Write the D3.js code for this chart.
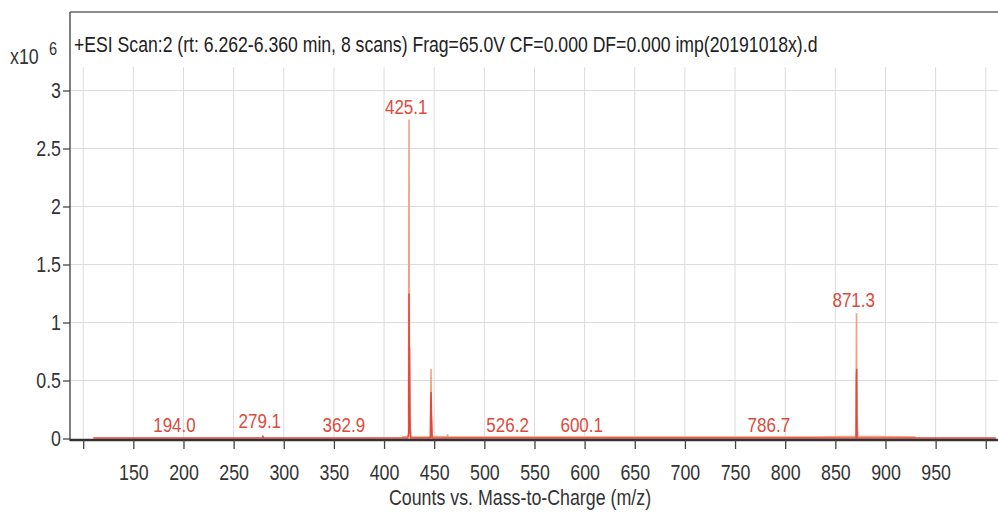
<!DOCTYPE html>
<html>
<head>
<meta charset="utf-8">
<script src="https://cdn.jsdelivr.net/npm/d3@7"></script>
<style>
  body { margin: 0; background: #fff; }
  text { font-family: "Liberation Sans", Arial, sans-serif; }
</style>
</head>
<body>
<div id="chart"></div>
<script>
// Mass spectrum, +ESI scan

// Axis ticks
var xTicks = [100, 150, 200, 250, 300, 350, 400, 450, 500, 550, 600, 650, 700, 750, 800, 850, 900, 950, 1000];
var xTickLabels = ['', '150', '200', '250', '300', '350', '400', '450', '500', '550', '600', '650', '700', '750', '800', '850', '900', '950', ''];
var yTicks = [0, 0.5, 1, 1.5, 2, 2.5, 3];
var yTickLabels = ['0', '0.5', '1', '1.5', '2', '2.5', '3'];

// Centroid trace (red), counts x10^6
var redMz     = [110, 278.7, 279.1, 279.5, 423.8, 424.6, 424.9, 425.1, 425.4, 425.7, 426.0, 426.4, 446.2, 446.6, 446.9, 447.2, 447.5, 447.9, 870.7, 871.0, 871.3, 871.6, 1010];
var redCounts = [0.004, 0.004, 0.025, 0.004, 0.004, 0.05, 1.25, 0.78, 0.78, 0.40, 0.06, 0.004, 0.004, 0.33, 0.40, 0.20, 0.14, 0.004, 0.004, 0.55, 0.60, 0.004, 0.004];

// Profile trace (salmon), counts x10^6
var profMz     = [418, 424.4, 424.9, 425.2, 425.6, 426.2, 427.0, 428.0, 446.3, 446.8, 447.3, 448.0, 462.8, 463.3, 463.8, 520, 828, 870.6, 871.1, 871.5, 872.4, 930];
var profCounts = [0.012, 0.02, 2.75, 0.90, 0.20, 0.08, 0.02, 0.012, 0.012, 0.60, 0.15, 0.02, 0.012, 0.035, 0.012, 0.012, 0.012, 0.02, 1.08, 0.20, 0.02, 0.012];

// Labelled peaks
var peakMz     = [194.0, 279.1, 362.9, 425.1, 526.2, 600.1, 786.7, 871.3];
var peakLabels = ['194.0', '279.1', '362.9', '425.1', '526.2', '600.1', '786.7', '871.3'];
var peakTops   = [0.004, 0.035, 0.004, 2.75, 0.004, 0.004, 0.004, 1.08];

var titleText = '+ESI Scan:2 (rt: 6.262-6.360 min, 8 scans) Frag=65.0V CF=0.000 DF=0.000 imp(20191018x).d';
var xTitle = 'Counts vs. Mass-to-Charge (m/z)';

var width = 998,
    height = 512,
    margin = {top: 12, right: 0, bottom: 71, left: 70},
    squeeze = 0.81; // narrow font look

var svg = d3.select('#chart').append('svg')
    .attr('width', width)
    .attr('height', height);

var plotRight = width - margin.right;
var baseY = 438.5;

// Scales
var x = d3.scaleLinear().domain([86.84, 1012.2]).range([margin.left, plotRight]);
var y = d3.scaleLinear().domain([0, 3.2]).range([baseY, 67.3]);

// Text helper: condensed text at a point
function addText(px, py, str, size, fill, anchor, sx) {
    return svg.append('text')
        .attr('transform', 'translate(' + px + ',' + py + ') scale(' + (sx || squeeze) + ',1)')
        .attr('text-anchor', anchor || 'start')
        .style('font-size', size + 'px')
        .attr('fill', fill)
        .text(str);
}

// Gridlines
svg.append('g').selectAll('line')
    .data(xTicks)
    .enter().append('line')
    .attr('x1', function(d) { return x(d); })
    .attr('x2', function(d) { return x(d); })
    .attr('y1', y(3.2))
    .attr('y2', baseY)
    .attr('stroke', '#dcdcdc')
    .attr('stroke-width', 1);

svg.append('g').selectAll('line')
    .data(yTicks.slice(1))
    .enter().append('line')
    .attr('x1', margin.left)
    .attr('x2', plotRight)
    .attr('y1', function(d) { return y(d); })
    .attr('y2', function(d) { return y(d); })
    .attr('stroke', '#dcdcdc')
    .attr('stroke-width', 1);

// Frame: top border and left axis
svg.append('line')
    .attr('x1', margin.left).attr('x2', plotRight)
    .attr('y1', margin.top).attr('y2', margin.top)
    .attr('stroke', '#666').attr('stroke-width', 1.5);

svg.append('line')
    .attr('x1', margin.left).attr('x2', margin.left)
    .attr('y1', margin.top).attr('y2', 441)
    .attr('stroke', '#555').attr('stroke-width', 1.5);

// Title, squeezed to the width it has in the reference
var title = addText(74, 52, titleText, 22, '#222', 'start', 1);
var titleW = title.node().getComputedTextLength();
title.attr('transform', 'translate(74,52) scale(' + (744 / titleW) + ',1)');

// Line generator
var line = d3.line()
    .x(function(d) { return x(d[0]); })
    .y(function(d) { return y(d[1]); });

// Profile trace
svg.append('path')
    .datum(d3.zip(profMz, profCounts))
    .attr('d', line)
    .attr('fill', 'none')
    .attr('stroke', '#f2a182')
    .attr('stroke-width', 1.6);

// Red trace
svg.append('path')
    .datum(d3.zip(redMz, redCounts))
    .attr('d', line)
    .attr('fill', 'none')
    .attr('stroke', '#e4473b')
    .attr('stroke-width', 1.5);

// X axis
var xAxis = d3.axisBottom(x)
    .tickValues(xTicks)
    .tickSize(9)
    .tickPadding(15)
    .tickFormat(function(d, i) { return xTickLabels[i]; });

var gx = svg.append('g')
    .attr('transform', 'translate(0,440)')
    .call(xAxis);

gx.select('.domain')
    .attr('d', 'M' + margin.left + ',0H' + plotRight)
    .attr('stroke', '#333')
    .attr('stroke-width', 2.5);
gx.selectAll('.tick line').attr('stroke', '#444').attr('stroke-width', 1.3);
gx.selectAll('.tick text')
    .attr('transform', 'scale(' + squeeze + ',1)')
    .style('font-size', '22px')
    .style('font-family', '"Liberation Sans", Arial, sans-serif')
    .attr('fill', '#333');

// Y axis
var yAxis = d3.axisLeft(y)
    .tickValues(yTicks)
    .tickSize(7)
    .tickPadding(2)
    .tickFormat(function(d, i) { return yTickLabels[i]; });

var gy = svg.append('g')
    .attr('transform', 'translate(' + margin.left + ',0)')
    .call(yAxis);

gy.select('.domain').remove();
gy.selectAll('.tick line').attr('stroke', '#444').attr('stroke-width', 1.3);
gy.selectAll('.tick text')
    .attr('transform', 'scale(' + squeeze + ',1)')
    .attr('x', -9 / squeeze)
    .style('font-size', '22px')
    .style('font-family', '"Liberation Sans", Arial, sans-serif')
    .attr('fill', '#333');

// Multiplier x10^6
addText(10, 64, 'x10', 22, '#333');
addText(49, 55, '6', 18, '#333');

// Peak labels
peakMz.forEach(function(mz, i) {
    addText(x(mz) - 3, y(peakTops[i]) - 6, peakLabels[i], 21, '#dc4a3d', 'middle');
});

// X axis title
addText(520, 505, xTitle, 22, '#333', 'middle');
</script>
</body>
</html>
